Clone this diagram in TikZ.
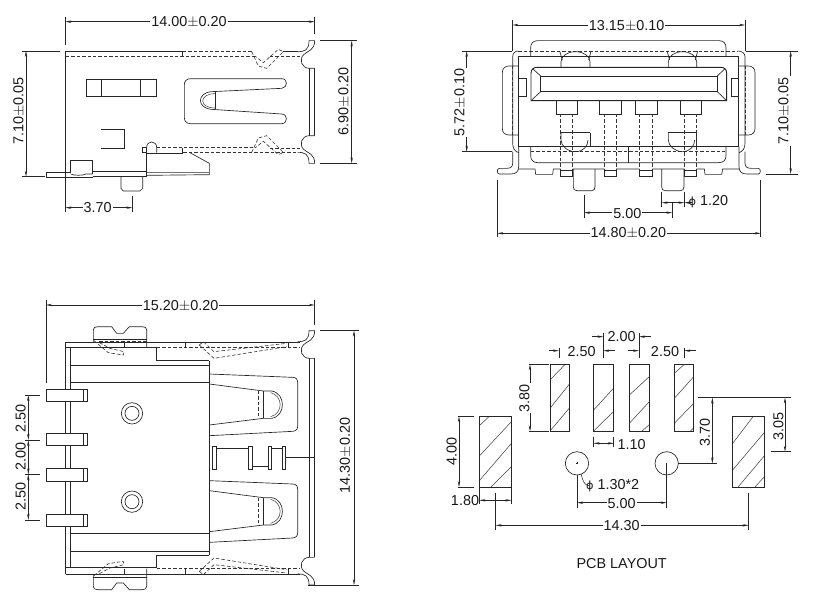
\documentclass[tikz,border=0pt]{standalone}
\usepackage{fontspec}
\setmainfont{Liberation Sans}
\newfontfamily\phifont{DejaVu Sans}
\usetikzlibrary{arrows.meta}
\newcommand{\pmv}{$\pm$}
\newcommand{\phiv}{{\phifont\fontsize{8.5pt}{8.5pt}\selectfont ϕ}}
\tikzset{
  ln/.style={line width=0.5pt,draw=black!85},
  thk/.style={line width=0.7pt,draw=black!85},
  thn/.style={line width=0.4pt,draw=black!75},
  dsh/.style={line width=0.45pt,draw=black!80,dash pattern=on 2.6pt off 1.5pt},
  dm/.style={line width=0.4pt,draw=black!85,{Stealth[length=4.5pt,width=1.8pt]}-{Stealth[length=4.5pt,width=1.8pt]}},
  da/.style={line width=0.4pt,draw=black!85,-{Stealth[length=4.5pt,width=1.8pt]}},
  ex/.style={line width=0.4pt,draw=black!85},
  lab/.style={fill=white,inner sep=0.8pt,text=black!90,font=\fontsize{10.8pt}{11pt}\selectfont},
  labn/.style={inner sep=0.5pt,text=black!90,font=\fontsize{10.8pt}{11pt}\selectfont},
  vlab/.style={lab,rotate=90},
  panel/.style={x=0.25pt,y=-0.25pt}
}
\newcommand{\shellhook}{%
  \draw[ln] (893,155) .. controls (915,155) and (927,150) .. (927,122) -- (944,122) .. controls (944,150) and (925,152) .. (912,163) .. controls (895,178) and (905,205) .. (928,205) -- (944,205);
}
\begin{document}
\begin{tikzpicture}
\useasboundingbox (0,0) rectangle (612pt,-457.5pt);
% ========= Panel A side view
\begin{scope}[panel]
 \draw[ln] (197,153) -- (197,517);
 \draw[thk] (197,153) -- (548,153);
 \draw[ln] (548,153) -- (548,168);
 \draw[dsh] (548,155) -- (755,155);
 \draw[ln] (850,155) -- (895,155);
 \draw[dsh] (197,168) -- (765,168) (810,168) -- (900,168);
 \draw[dsh] (755,155) -- (775,198) -- (800,205) -- (850,155) -- (835,148) -- (790,188) -- (765,168);
 \shellhook
 \begin{scope}[shift={(0,612)},yscale=-1]
  \draw[dsh] (755,155) -- (775,198) -- (800,205) -- (850,155) -- (835,148) -- (790,188) -- (765,168);
  \draw[dsh] (810,168) -- (900,168);
  \shellhook
 \end{scope}
 \draw[dsh] (470,443) -- (765,443);
 \draw[thk] (440,459) -- (550,459);
 \draw[ln] (548,445) -- (548,459);
 \draw[dsh] (550,457) -- (893,457);
 % bar
 \draw[ln] (928,205) -- (928,407);
 \draw[thk] (944,205) -- (944,407);
 % window
 \draw[ln] (258,237) rectangle (468,290);
 \draw[ln] (303,237) -- (303,290) (422,237) -- (422,290);
 % slot
 \draw[ln] (845,236) -- (572,236) .. controls (560,236) and (553,243) .. (553,254) -- (553,353) .. controls (553,364) and (560,371) .. (572,371) -- (845,371) .. controls (864,371) and (864,342) .. (845,342) -- (635,328) .. controls (590,325) and (590,278) .. (635,275) -- (845,265) .. controls (864,263) and (864,236) .. (845,236);
 \draw[ln] (645,275) -- (645,328);
 \draw[thn] (645,281) .. controls (596,281) and (596,324) .. (645,324);
 % bracket
 \draw[ln] (303,388) -- (372,388) -- (372,445) -- (303,445);
 % bottom parts
 \draw[ln] (212,517) -- (212,482) -- (278,482) -- (278,522);
 \draw[ln] (212,522) .. controls (220,527) and (250,527) .. (258,522) -- (278,522);
 \draw[ln] (138,517) -- (212,517) (138,517) -- (138,532) -- (278,532);
 \draw[thk] (278,515) -- (440,515);
 \draw[ln] (278,530) -- (440,530);
 \draw[ln] (440,517) -- (628,517) (440,526) -- (628,524) -- (628,490) -- (570,458);
 \draw[ln] (440,458) -- (440,530);
 \draw[ln] (427,443) rectangle (440,458);
 \draw[ln] (440,443) .. controls (440,420) and (470,420) .. (470,443) -- (470,458);
 \draw[ln] (363,530) -- (363,565) -- (370,573) -- (420,573) -- (428,565) -- (428,530);
 % dims
 \draw[ex] (196,50) -- (196,135) (944,50) -- (944,103);
 \draw[dm] (196,65) -- (944,65);
 \node[lab] (a1) at (567,66) {14.00\pmv0.20};
 \draw[ex] (65,153) -- (180,153) (65,530) -- (135,530);
 \draw[dm] (78,153) -- (78,530);
 \node[vlab] (a2) at (57,333) {7.10\pmv0.05};
 \draw[ex] (960,122) -- (1070,122) (960,490) -- (1070,490);
 \draw[dm] (1055,122) -- (1055,490);
 \node[vlab] (a3) at (1032,305) {6.90\pmv0.20};
 \draw[ex] (196,517) -- (196,636) (397,588) -- (397,636);
 \draw[dm] (196,623) -- (397,623);
 \node[lab] (a4) at (293,624) {3.70};
\end{scope}
% ========= Panel B front view
\begin{scope}[panel,shift={(330pt,0pt)}]
 % shell
 \draw[ln] (235,153) .. controls (225,153) and (218,160) .. (218,170) -- (218,430) .. controls (218,445) and (225,455) .. (236,458);
 \draw[ln] (895,153) .. controls (905,153) and (915,160) .. (915,170) -- (915,430) .. controls (915,445) and (908,455) .. (897,458);
 \draw[dsh] (235,153) -- (895,153) (272,455) -- (860,455);
 \draw[thk] (235,170) rectangle (895,440);
 % caps
 \draw[ln] (272,170) -- (272,143) .. controls (272,130) and (280,122) .. (293,122) -- (837,122) .. controls (850,122) and (858,130) .. (858,143) -- (858,170);
 \draw[ln] (272,440) -- (272,467) .. controls (272,480) and (280,488) .. (293,488) -- (837,488) .. controls (850,488) and (858,480) .. (858,467) -- (858,440);
 \draw[ln] (565,440) -- (565,488);
 % side
 \draw[ln] (235,198) -- (207,198) .. controls (195,198) and (187,205) .. (187,218) -- (187,385) .. controls (187,398) and (195,405) .. (207,405) -- (235,405);
 \draw[ln] (895,198) -- (925,198) .. controls (937,198) and (945,205) .. (945,218) -- (945,385) .. controls (945,398) and (937,405) .. (925,405) -- (895,405);
 \draw[dsh] (217,198) -- (217,405) (915,198) -- (915,405);
 \draw[ln] (235,235) rectangle (260,290) (873,235) rectangle (895,290);
 % opening
 \draw[thk] (273,302) -- (273,220) .. controls (273,208) and (280,202) .. (292,202) -- (843,202) .. controls (853,202) and (860,208) .. (860,220) -- (860,302) -- cycle;
 \draw[ln] (302,228) rectangle (832,275);
 \draw[ln] (279,207) -- (302,228) (854,207) -- (832,228) (273,302) -- (302,275) (860,302) -- (832,275);
 % domes
 \foreach \xa/\xb in {363/450,685/770}{
  \draw[thk] (\xa,202) -- (\xb,202);
  \draw[ln] (\xa,202) -- (\xa,185) .. controls (\xa,168) and ({\xa+20},155) .. ({(\xa+\xb)/2},155) .. controls ({\xb-20},155) and (\xb,168) .. (\xb,185) -- (\xb,202);
  \draw[ln] ({\xa-4},153) -- ({\xa+4},180) ({\xb+3},153) -- ({\xb-4},180);
  \draw[thk] (\xa,398) -- (\xb,398);
  \draw[ln] (\xa,398) -- (\xa,420) .. controls (\xa,438) and ({\xa+20},455) .. ({(\xa+\xb)/2},455) .. controls ({\xb-20},455) and ({\xb-6},438) .. ({\xb-6},420);
  \draw[ln] (\xb,398) -- (\xb,440);
 }
 % pins
 \foreach \xa/\xb/\da/\db in {348/412/360/398,478/545/493/530,585/652/598/637,720/785/733/770}{
  \draw[ln] (\xa,302) rectangle (\xb,342);
  \draw[dsh] (\da,342) -- (\da,510) (\db,342) -- (\db,510);
 }
 \foreach \xa/\xb in {362/398,493/528,598/637,733/770}{
  \draw[ln] (\xa,510) rectangle (\xb,528);
 }
 % bottom
 \draw[ln] (218,455) -- (218,490) .. controls (218,500) and (212,505) .. (200,505) -- (178,505) .. controls (170,505) and (170,522) .. (178,522) -- (212,522) .. controls (228,522) and (236,515) .. (236,500) -- (236,440);
 \draw[ln] (915,455) -- (915,490) .. controls (915,500) and (921,505) .. (933,505) -- (955,505) .. controls (963,505) and (963,522) .. (955,522) -- (921,522) .. controls (905,522) and (897,515) .. (897,500) -- (897,440);
 \draw[ln] (236,507) -- (285,507) -- (287,523) -- (338,523) -- (340,507) -- (362,507) (398,507) -- (493,507) (528,507) -- (598,507) (637,507) -- (733,507) (770,507) -- (793,507) -- (795,523) -- (845,523) -- (848,507) -- (897,507);
 \draw[ln] (400,507) -- (400,560) .. controls (400,568) and (403,572) .. (411,572) -- (455,572) .. controls (462,572) and (465,568) .. (465,560) -- (465,507);
 \draw[ln] (665,507) -- (665,560) .. controls (665,568) and (668,572) .. (676,572) -- (721,572) .. controls (728,572) and (732,568) .. (732,560) -- (732,507);
 % dims
 \draw[ex] (218,60) -- (218,152) (915,60) -- (915,152);
 \draw[dm] (218,75) -- (915,75);
 \node[lab] (b1) at (560,77) {13.15\pmv0.10};
 \draw[ex] (65,153) -- (216,153) (65,455) -- (216,455);
 \draw[dm] (80,153) -- (80,455);
 \node[vlab] (b2) at (60,308) {5.72\pmv0.10};
 \draw[ex] (917,153) -- (1075,153) (978,522) -- (1075,522);
 \draw[dm] (1052,153) -- (1052,522);
 \node[vlab] (b3) at (1032,333) {7.10\pmv0.05};
 \draw[ex] (665,575) -- (665,622) (733,575) -- (733,622) (697,605) -- (697,655) (432,585) -- (432,655);
 \draw[da] (697,608) -- (665,608);
 \draw[da] (697,608) -- (733,608);
 \draw[da] (755,608) -- (733,608);
 \node[labn] (b4) at (805,606) {\phiv\ 1.20};
 \draw[dm] (432,638) -- (697,638);
 \node[lab] (b5) at (562,640) {5.00};
 \draw[ex] (172,540) -- (172,712) (962,540) -- (962,712);
 \draw[dm] (172,700) -- (962,700);
 \node[lab] (b6) at (565,700) {14.80\pmv0.20};
\end{scope}
% ========= Panel C top view
\begin{scope}[panel,shift={(0pt,-217.5pt)}]
 \draw[ln] (197,156) -- (197,853) (212,173) -- (212,833);
 \draw[ln] (197,156) -- (900,156) (197,853) -- (900,853);
 \draw[thk] (197,173) -- (470,173) (197,833) -- (470,833);
 \draw[dsh] (470,173) -- (900,173) (470,835) -- (900,835);
 \draw[ln] (470,173) -- (470,212) -- (628,212) (628,795) -- (470,795) -- (470,833);
 \draw[ln] (212,225) -- (628,225) (212,278) -- (628,278) (212,730) -- (628,730) (212,783) -- (628,783);
 \draw[ln] (555,156) -- (555,173) (865,156) -- (865,173) (555,835) -- (555,853) (865,835) -- (865,853);
 % tabs
 \foreach \c in {0,1}{
 \begin{scope}[shift={(0,\c*1009)},yscale={1-2*\c}]
  \draw[ln] (280,156) -- (280,120) .. controls (280,114) and (284,110) .. (292,110) -- (335,110) -- (350,130) -- (370,130) -- (388,110) -- (428,110) .. controls (436,110) and (440,114) .. (440,120) -- (440,173);
  \draw[ln] (280,147) -- (440,147) (373,155) -- (373,173);
  \draw[dsh] (298,155) -- (440,155);
  \draw[dsh] (282,152) -- (325,188) -- (370,195) -- (372,185) -- (330,175) -- (298,158);
  \draw[dsh] (598,165) -- (642,205) -- (860,170) (598,165) -- (610,155) -- (642,185) -- (860,160);
 \end{scope}
 }
 % hooks and bar
 \shellhook
 \begin{scope}[shift={(0,1007)},yscale=-1]
  \shellhook
 \end{scope}
 \draw[ln] (928,205) -- (928,802);
 \draw[thk] (944,205) -- (944,802);
 % pins
 \foreach \ya/\yb in {298/334,430/467,536/573,672/709}{
  \draw[ln,fill=white] (138,\ya) rectangle (262,\yb);
  \draw[ln] (249,\ya) -- (249,\yb);
 }
 % springs
 \draw[thk] (628,212) -- (628,795);
 \foreach \d in {0,320}{
 \begin{scope}[shift={(0,\d)}]
  \draw[ln] (628,252) -- (878,262) .. controls (888,262) and (893,268) .. (893,278) -- (893,408) .. controls (893,418) and (888,423) .. (878,424) -- (628,437);
  \draw[ln] (628,282) -- (790,303) -- (815,303) .. controls (858,310) and (858,378) .. (815,385) -- (790,385) -- (628,405);
  \draw[ln] (790,303) -- (790,385);
  \draw[dsh] (776,303) -- (776,385);
  \draw[thn] (812,308) .. controls (850,318) and (850,370) .. (812,380);
 \end{scope}
 }
 % small contacts
 \draw[ln] (636,470) rectangle (648,537);
 \draw[ln] (744,470) rectangle (756,537);
 \draw[ln] (805,470) rectangle (815,537);
 \draw[ln] (847,470) rectangle (857,537);
 \draw[ln] (648,475) -- (744,475) (756,528) -- (805,528) (815,475) -- (847,475) (857,503) -- (945,503);
 % circles
 \draw[ln] (396,370) circle [x radius=32,y radius=32];
 \draw[ln] (396,370) circle [x radius=21,y radius=21];
 \draw[ln] (396,635) circle [x radius=32,y radius=32];
 \draw[ln] (396,635) circle [x radius=21,y radius=21];
 % dims
 \draw[ex] (138,30) -- (138,280) (944,30) -- (944,105);
 \draw[dm] (138,45) -- (944,45);
 \node[lab] (c1) at (542,47) {15.20\pmv0.20};
 \draw[ex] (960,122) -- (1078,122) (925,885) -- (1078,885);
 \draw[dm] (1062,122) -- (1062,885);
 \node[vlab] (c2) at (1036,497) {14.30\pmv0.20};
 \draw[ex] (75,315) -- (120,315) (75,450) -- (120,450) (75,553) -- (120,553) (75,690) -- (120,690);
 \draw[dm] (85,315) -- (85,450);
 \draw[dm] (85,450) -- (85,553);
 \draw[dm] (85,553) -- (85,690);
 \node[vlab] (c3) at (62,385) {2.50};
 \node[vlab] (c4) at (62,500) {2.00};
 \node[vlab] (c5) at (62,620) {2.50};
\end{scope}
% ========= Panel D PCB layout
\begin{scope}[panel,shift={(322.5pt,-240pt)}]
 % hatch
 \begin{scope}
  \clip (360,133) rectangle (418,334);
  \draw[thn] (360,180) -- (420,118) (360,265) -- (420,190) (360,333) -- (420,262);
 \end{scope}
 \begin{scope}
  \clip (491,133) rectangle (550,334);
  \draw[thn] (491,270) -- (552,203) (491,333) -- (552,273);
 \end{scope}
 \begin{scope}
  \clip (598,133) rectangle (658,334);
  \draw[thn] (598,225) -- (660,168) (598,310) -- (660,243) (635,334) -- (660,312);
 \end{scope}
 \begin{scope}
  \clip (733,133) rectangle (791,334);
  \draw[thn] (733,160) -- (765,131) (733,235) -- (793,168) (733,310) -- (793,248) (780,334) -- (793,322);
 \end{scope}
 \begin{scope}
  \clip (148,289) rectangle (244,501);
  \draw[thn] (148,317) -- (180,287) (148,408) -- (246,303) (148,482) -- (246,368) (183,501) -- (246,438);
 \end{scope}
 \begin{scope}
  \clip (908,289) rectangle (1003,501);
  \draw[thn] (908,370) -- (970,289) (908,450) -- (1005,335) (925,500) -- (1005,405) (975,501) -- (1005,468);
 \end{scope}
 \foreach \xa/\xb in {360/418,491/550,598/658,733/791}{
  \draw[ln] (\xa,133) rectangle (\xb,334);
 }
 \draw[ln] (148,289) rectangle (244,501);
 \draw[ln] (908,289) rectangle (1003,501);
 \draw[ln] (441,430) circle [x radius=35,y radius=35];
 \draw[ln] (710,430) circle [x radius=35,y radius=35];
 % dims
 \draw[ex] (297,133) -- (358,133) (297,334) -- (358,334);
 \draw[dm] (300,133) -- (300,334);
 \node[vlab] (d1) at (283,235) {3.80};
 \draw[ex] (83,289) -- (132,289) (83,501) -- (132,501);
 \draw[dm] (87,289) -- (87,501);
 \node[vlab] (d2) at (65,393) {4.00};
 \draw[ex] (387,85) -- (387,115) (520,38) -- (520,115) (627,38) -- (627,115) (763,85) -- (763,115);
 \draw[da] (357,92) -- (387,92);
 \draw[da] (555,92) -- (520,92);
 \draw[da] (595,92) -- (627,92);
 \draw[da] (797,92) -- (763,92);
 \draw[da] (487,50) -- (520,50);
 \draw[da] (662,50) -- (627,50);
 \node[labn] (d3) at (455,94) {2.50};
 \node[labn] (d4) at (705,94) {2.50};
 \node[labn] (d5) at (575,50) {2.00};
 \draw[ex] (491,350) -- (491,382) (551,350) -- (551,382);
 \draw[dm] (491,370) -- (551,370);
 \node[labn] (d6) at (605,374) {1.10};
 \draw[ex] (453,462) .. controls (458,480) and (462,497) .. (478,497);
 \node[labn] (d7) at (548,497) {\phiv\ 1.30*2};
 \draw[ex] (441,427) -- (441,433) (438,430) -- (444,430) (441,465) -- (441,565) (710,430) -- (710,565);
 \draw[dm] (441,548) -- (710,548);
 \node[lab] (d8) at (575,551) {5.00};
 \draw[ex] (148,501) -- (148,552) (244,501) -- (244,552);
 \draw[dm] (148,541) -- (244,541);
 \node[labn] (d9) at (105,541) {1.80};
 \draw[ex] (197,520) -- (197,630) (956,520) -- (956,630);
 \draw[dm] (197,616) -- (956,616);
 \node[lab] (d10) at (575,617) {14.30};
 \draw[ex] (805,233) -- (1082,233) (1022,395) -- (1082,395);
 \draw[dm] (1065,233) -- (1065,395);
 \node[vlab] (d11) at (1045,318) {3.05};
 \draw[ex] (745,430) -- (860,430);
 \draw[dm] (847,233) -- (847,430);
 \node[vlab] (d12) at (825,336) {3.70};
 \node[labn] (d13) at (575,730) {PCB LAYOUT};
\end{scope}
\end{tikzpicture}
\end{document}
